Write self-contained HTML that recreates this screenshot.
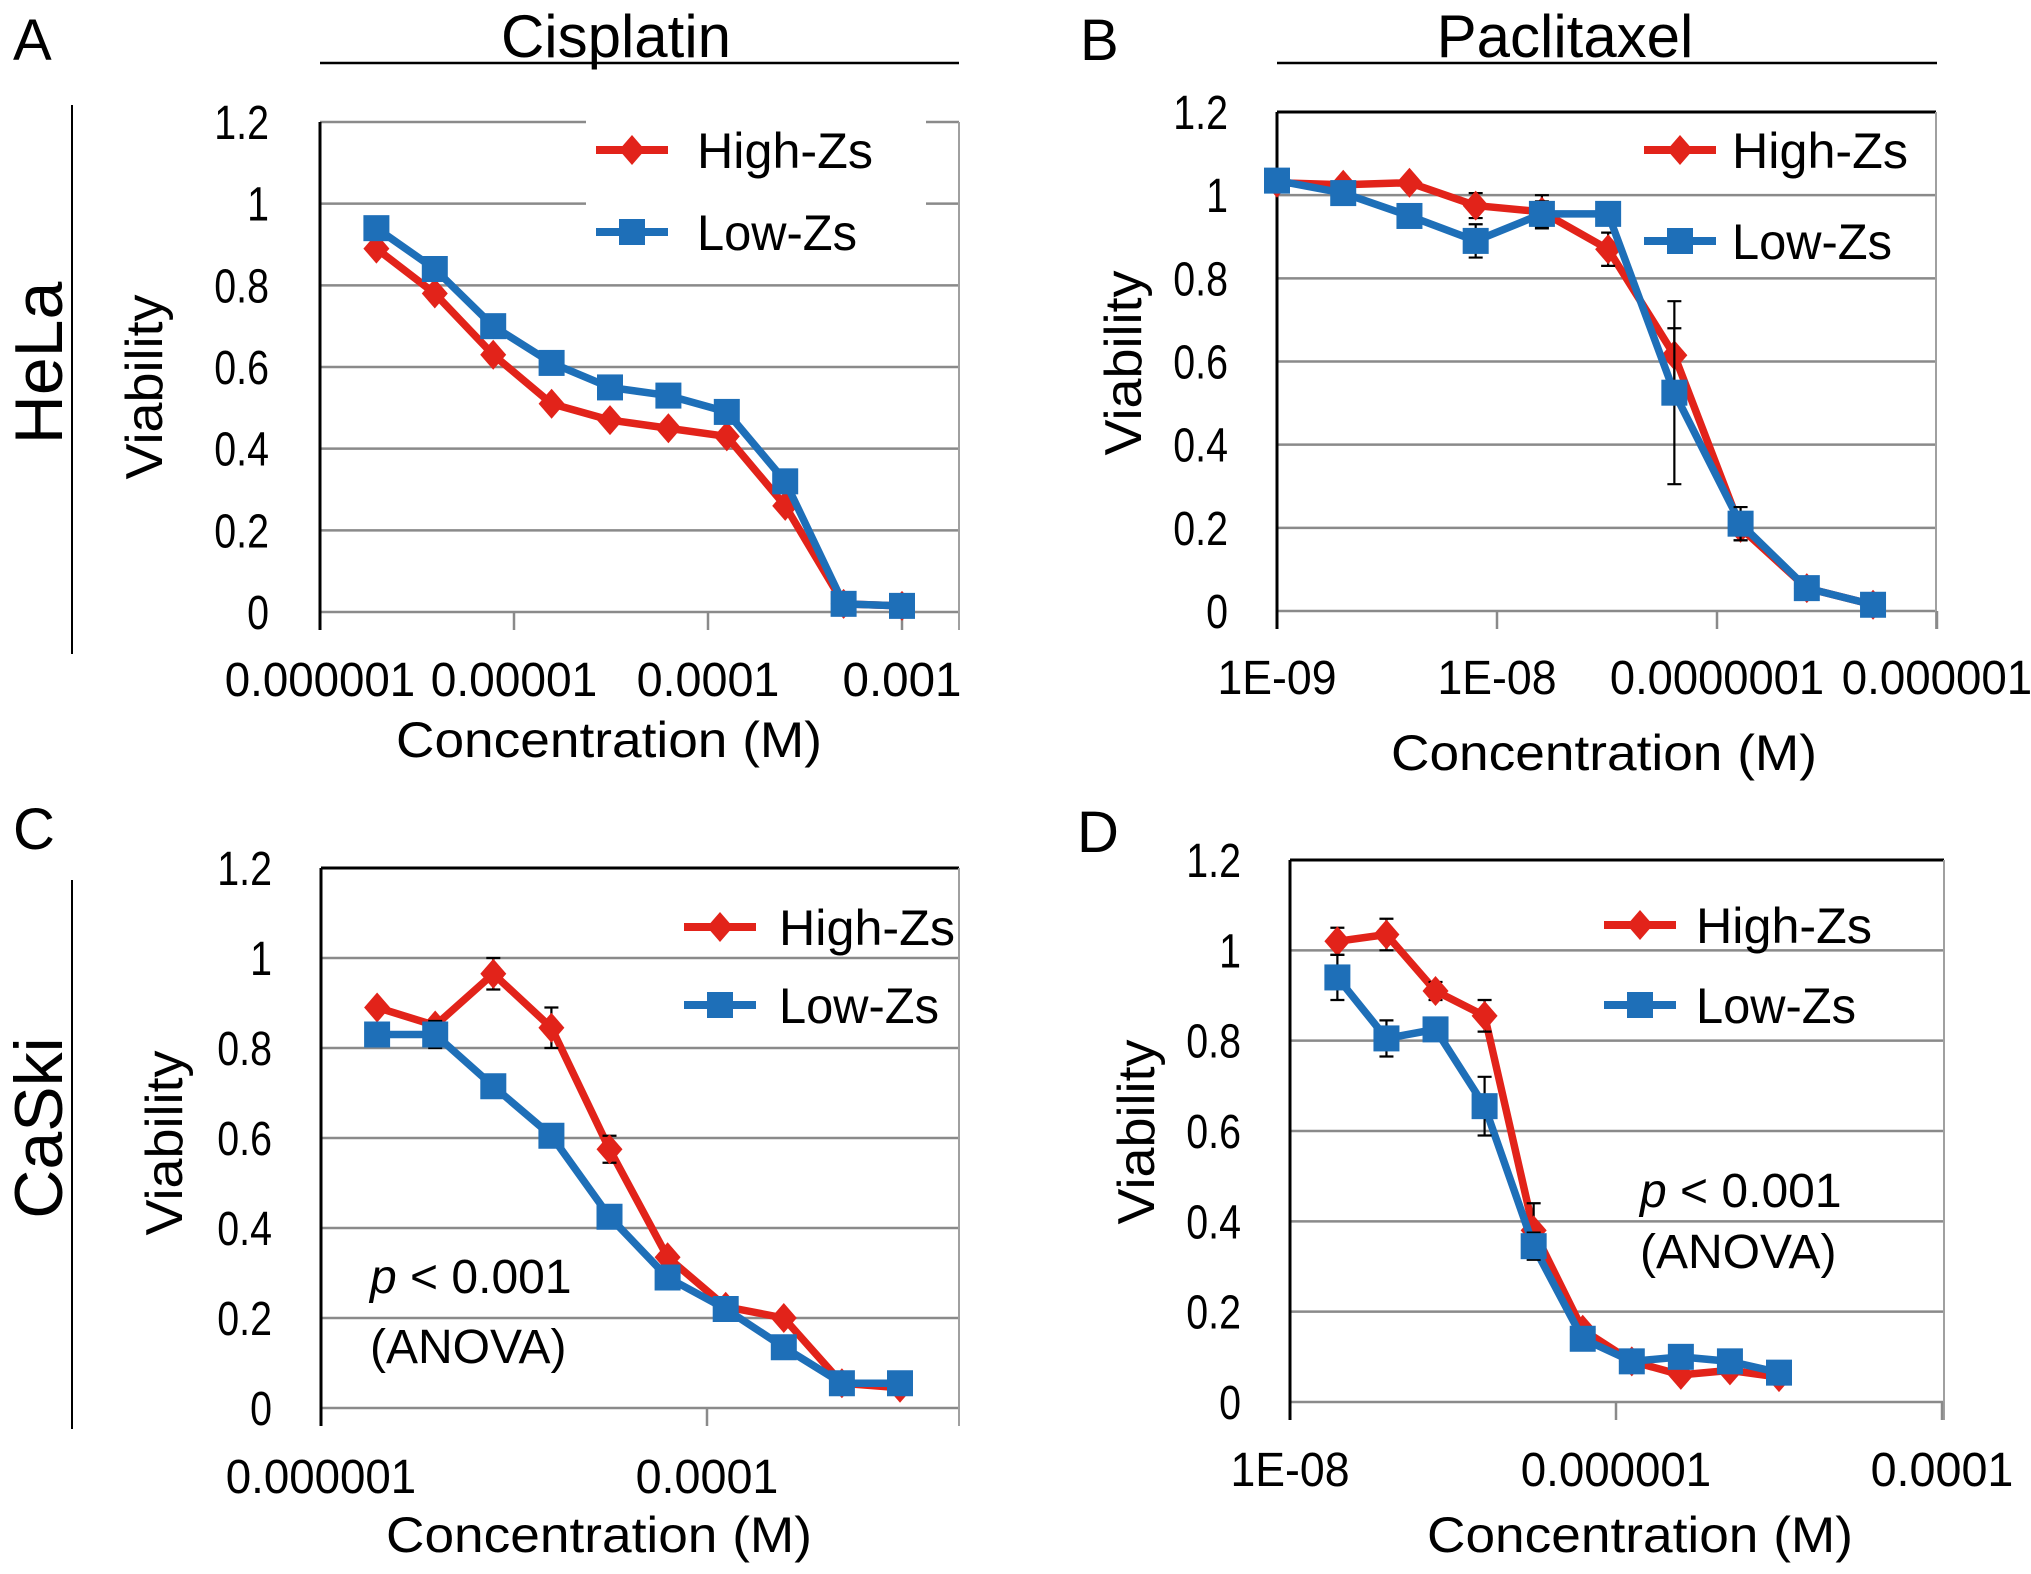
<!DOCTYPE html>
<html><head><meta charset="utf-8"><style>
html,body{margin:0;padding:0;background:#fff}
svg{display:block}
text{font-family:"Liberation Sans",sans-serif;fill:#000}
</style></head><body>
<svg id="fig" width="2031" height="1574" viewBox="0 0 2031 1574" xmlns="http://www.w3.org/2000/svg"></svg>
<script>
// ---- data ----
const yTicks = [0, 0.2, 0.4, 0.6, 0.8, 1, 1.2];
const yTickLabels = ["0", "0.2", "0.4", "0.6", "0.8", "1", "1.2"];

const concA = [1.953e-6, 3.906e-6, 7.8125e-6, 1.5625e-5, 3.125e-5, 6.25e-5, 1.25e-4, 2.5e-4, 5e-4, 1e-3];
const highA = [0.89, 0.78, 0.63, 0.51, 0.47, 0.45, 0.43, 0.26, 0.02, 0.015];
const lowA  = [0.94, 0.84, 0.70, 0.61, 0.55, 0.53, 0.49, 0.32, 0.02, 0.015];
const highErrA = [0, 0, 0, 0, 0, 0, 0, 0, 0, 0];
const lowErrA  = [0, 0, 0, 0, 0, 0, 0, 0, 0, 0];
const xTicksA = [1e-6, 1e-5, 1e-4, 1e-3];
const xTickLabelsA = ["0.000001", "0.00001", "0.0001", "0.001"];

const concB = [1e-9, 2e-9, 4e-9, 8e-9, 1.6e-8, 3.2e-8, 6.4e-8, 1.28e-7, 2.56e-7, 5.12e-7];
const highB = [1.03, 1.025, 1.03, 0.975, 0.96, 0.87, 0.615, 0.20, 0.055, 0.015];
const lowB  = [1.035, 1.005, 0.95, 0.89, 0.955, 0.955, 0.525, 0.21, 0.055, 0.015];
const highErrB = [0, 0.01, 0, 0.03, 0.04, 0.04, 0.065, 0.03, 0, 0];
const lowErrB  = [0, 0, 0, 0.04, 0.03, 0, 0.22, 0.04, 0, 0];
const xTicksB = [1e-9, 1e-8, 1e-7, 1e-6];
const xTickLabelsB = ["1E-09", "1E-08", "0.0000001", "0.000001"];

const concC = [1.953e-6, 3.906e-6, 7.8125e-6, 1.5625e-5, 3.125e-5, 6.25e-5, 1.25e-4, 2.5e-4, 5e-4, 1e-3];
const highC = [0.89, 0.85, 0.965, 0.845, 0.575, 0.335, 0.225, 0.20, 0.055, 0.045];
const lowC  = [0.83, 0.83, 0.715, 0.605, 0.425, 0.29, 0.22, 0.135, 0.055, 0.055];
const highErrC = [0, 0, 0.035, 0.045, 0.03, 0, 0, 0, 0, 0];
const lowErrC  = [0, 0.03, 0, 0, 0, 0, 0, 0, 0, 0];
const xTicksC = [1e-6, 1e-4];
const xTickLabelsC = ["0.000001", "0.0001"];

const concD = [1.953e-8, 3.906e-8, 7.8125e-8, 1.5625e-7, 3.125e-7, 6.25e-7, 1.25e-6, 2.5e-6, 5e-6, 1e-5];
const highD = [1.02, 1.035, 0.91, 0.855, 0.38, 0.16, 0.09, 0.06, 0.07, 0.055];
const lowD  = [0.94, 0.805, 0.825, 0.655, 0.345, 0.14, 0.09, 0.10, 0.09, 0.065];
const highErrD = [0.03, 0.035, 0.02, 0.035, 0.06, 0, 0, 0, 0, 0];
const lowErrD  = [0.05, 0.04, 0, 0.065, 0.03, 0, 0, 0, 0, 0];
const xTicksD = [1e-8, 1e-6, 1e-4];
const xTickLabelsD = ["1E-08", "0.000001", "0.0001"];

const RED = "#e2231a", BLUE = "#1e6fb8";
const svg = document.getElementById("fig");
const NS = "http://www.w3.org/2000/svg";
function el(tag, attrs, parent) {
  const e = document.createElementNS(NS, tag);
  for (const k in attrs) e.setAttribute(k, attrs[k]);
  (parent || svg).appendChild(e);
  return e;
}
function txt(s, attrs, parent) { const t = el("text", attrs, parent); t.textContent = s; return t; }

function panel(p) {
  const g = el("g", {});
  
  
  const L = p.left, R = p.right, T = p.top, B = p.bottom;
  const lx0 = Math.log10(p.xMin), dec = p.decPx;
  const xs = v => L + (Math.log10(v) - lx0) * dec;
  const ys = v => B - (v / 1.2) * (B - T);
  yTicks.forEach((t, i) => {
    const gl = el("line", {x1: L, x2: R, y1: ys(t), y2: ys(t), stroke: (i === 6 && p.blackTop) ? "#000" : "#8a8a8a", "stroke-width": (i===6&&p.blackTop)?3:2.5}, g);
    
    
    const tl = txt(yTickLabels[i], {x: p.yLabX, y: ys(t) + 17, "font-size": 48, "text-anchor": "end", transform: `translate(${p.yLabX},0) scale(0.82,1) translate(${-p.yLabX},0)`}, g);
    
    
  });
  el("line", {x1: R, x2: R, y1: T, y2: B + 18, stroke: "#a0a0a0", "stroke-width": 2}, g);
  p.xTicks.forEach((t, i) => {
    const x = xs(t);
    el("line", {x1: x, x2: x, y1: B, y2: B + 18, stroke: "#8a8a8a", "stroke-width": 2.5}, g);
    const tl = txt(p.xLabels[i], {x: x, y: p.xLabY + 17, "font-size": 48, "text-anchor": "middle", textLength: p.xLabels[i].length * 23.8, lengthAdjust: "spacingAndGlyphs"}, g);
    
    
  });
  el("line", {x1: L, x2: L, y1: T, y2: B + 18, stroke: "#000", "stroke-width": 3}, g);
  const lg = el("g", {}, g);
  
  
  if (p.legendBox) el("rect", {x: p.leg.x - 10, y: p.leg.y1 - 32, width: p.leg.w, height: p.leg.y2 - p.leg.y1 + 64, fill: "#fff"}, lg);
  [[p.leg.y1, RED, "High-Zs", "diamond"], [p.leg.y2, BLUE, "Low-Zs", "square"]].forEach(([y, c, s, m]) => {
    el("line", {x1: p.leg.x, x2: p.leg.x + 72, y1: y, y2: y, stroke: c, "stroke-width": 8}, lg);
    marker(lg, p.leg.x + 36, y, c, m);
    const t = txt(s, {x: p.leg.tx, y: y + 18, "font-size": 50, textLength: s === "High-Zs" ? 176 : 160, lengthAdjust: "spacingAndGlyphs"}, lg);
    
    
  });
  [[p.high, p.highErr, RED, "diamond", "series-high-zs"], [p.low, p.lowErr, BLUE, "square", "series-low-zs"]].forEach(([vals, errs, c, m, nm]) => {
    const sg = el("g", {}, g);
    
    
    const pts = p.conc.map((x, i) => xs(x) + "," + ys(vals[i])).join(" ");
    el("polyline", {points: pts, fill: "none", stroke: c, "stroke-width": 7.5, "stroke-linejoin": "round"}, sg);
    p.conc.forEach((x, i) => {
      if (errs[i] > 0) {
        const cx = xs(x), y1 = ys(vals[i] - errs[i]), y2 = ys(vals[i] + errs[i]);
        const eb = el("path", {d: `M${cx},${y1}V${y2}M${cx-7},${y1}h14M${cx-7},${y2}h14`, stroke: "#000", "stroke-width": 2.2, fill: "none"}, sg);
        
        
      }
    });
    p.conc.forEach((x, i) => {
      const mk = marker(sg, xs(x), ys(vals[i]), c, m);
      
      
    });
  });
  const yt = txt("Viability", {x: 0, y: 0, "font-size": 52, "text-anchor": "middle", textLength: 185, lengthAdjust: "spacingAndGlyphs", transform: `translate(${p.vx + 18},${p.vy}) rotate(-90)`}, g);
  
  
  const xt = txt("Concentration (M)", {x: p.cx, y: p.cy + 18, "font-size": 50, "text-anchor": "middle", textLength: 426, lengthAdjust: "spacingAndGlyphs"}, g);
  
  
  if (p.pText) {
    const t1 = el("text", {x: p.pText.x, y: p.pText.y1 + 17, "font-size": 48}, g);
    
    
    const it = el("tspan", {"font-style": "italic"}, t1); it.textContent = "p";
    const rs = el("tspan", {}, t1); rs.textContent = " < 0.001";
    const t2 = txt("(ANOVA)", {x: p.pText.x, y: p.pText.y2 + 17, "font-size": 48}, g);
    
    
  }
}
function marker(parent, x, y, c, m) {
  if (m === "square") return el("rect", {x: x - 13, y: y - 13, width: 26, height: 26, fill: c}, parent);
  return el("path", {d: `M${x},${y-15}L${x+13},${y}L${x},${y+15}L${x-13},${y}Z`, fill: c}, parent);
}

panel({name: "panel-a-cisplatin-hela", left: 320, right: 959, top: 122, bottom: 612, xMin: 1e-6, decPx: 194,
  conc: concA, high: highA, low: lowA, highErr: highErrA, lowErr: lowErrA, xTicks: xTicksA, xLabels: xTickLabelsA,
  yLabX: 269, xLabY: 679, leg: {x: 596, tx: 697, y1: 150, y2: 232, w: 340}, legendBox: true,
  vx: 144, vy: 387, cx: 609, cy: 739});
panel({name: "panel-b-paclitaxel-hela", left: 1277, right: 1936, top: 112, bottom: 611, xMin: 1e-9, decPx: 220, blackTop: true,
  conc: concB, high: highB, low: lowB, highErr: highErrB, lowErr: lowErrB, xTicks: xTicksB, xLabels: xTickLabelsB,
  yLabX: 1228, xLabY: 677, leg: {x: 1644, tx: 1732, y1: 150, y2: 241, w: 300},
  vx: 1123, vy: 363, cx: 1604, cy: 752});
panel({name: "panel-c-cisplatin-caski", left: 321, right: 959, top: 868, bottom: 1408, xMin: 1e-6, decPx: 193, blackTop: true,
  conc: concC, high: highC, low: lowC, highErr: highErrC, lowErr: lowErrC, xTicks: xTicksC, xLabels: xTickLabelsC,
  yLabX: 272, xLabY: 1476, leg: {x: 684, tx: 779, y1: 927, y2: 1005, w: 280},
  vx: 164, vy: 1143, cx: 599, cy: 1534, pText: {x: 370, y1: 1276, y2: 1346}});
panel({name: "panel-d-paclitaxel-caski", left: 1290, right: 1944, top: 860, bottom: 1402, xMin: 1e-8, decPx: 163, blackTop: true,
  conc: concD, high: highD, low: lowD, highErr: highErrD, lowErr: lowErrD, xTicks: xTicksD, xLabels: xTickLabelsD,
  yLabX: 1241, xLabY: 1469, leg: {x: 1604, tx: 1696, y1: 925, y2: 1005, w: 280},
  vx: 1136, vy: 1132, cx: 1640, cy: 1534, pText: {x: 1640, y1: 1190, y2: 1251}});

[["A", 13, 60, "panel-letter-a"], ["B", 1080, 60, "panel-letter-b"], ["C", 13, 849, "panel-letter-c"], ["D", 1077, 852, "panel-letter-d"]].forEach(([s, x, y, n]) => {
  const t = txt(s, {x: x, y: y, "font-size": 58});  
});
[["Cisplatin", 616, 320, 959, "column-title-cisplatin"], ["Paclitaxel", 1565, 1277, 1937, "column-title-paclitaxel"]].forEach(([s, x, a, b, n]) => {
  const t = txt(s, {x: x, y: 57, "font-size": 60, "text-anchor": "middle"});  
  el("line", {x1: a, x2: b, y1: 63, y2: 63, stroke: "#000", "stroke-width": 2.5});
});
[["HeLa", 363, 105, 654, "row-label-hela"], ["CaSki", 1128, 880, 1429, "row-label-caski"]].forEach(([s, cy, a, b, n]) => {
  const t = txt(s, {x: 0, y: 0, "font-size": 68, "text-anchor": "middle", transform: `translate(${62},${cy}) rotate(-90)`});  
  el("line", {x1: 72, x2: 72, y1: a, y2: b, stroke: "#000", "stroke-width": 2});
});
</script>
</body></html>
